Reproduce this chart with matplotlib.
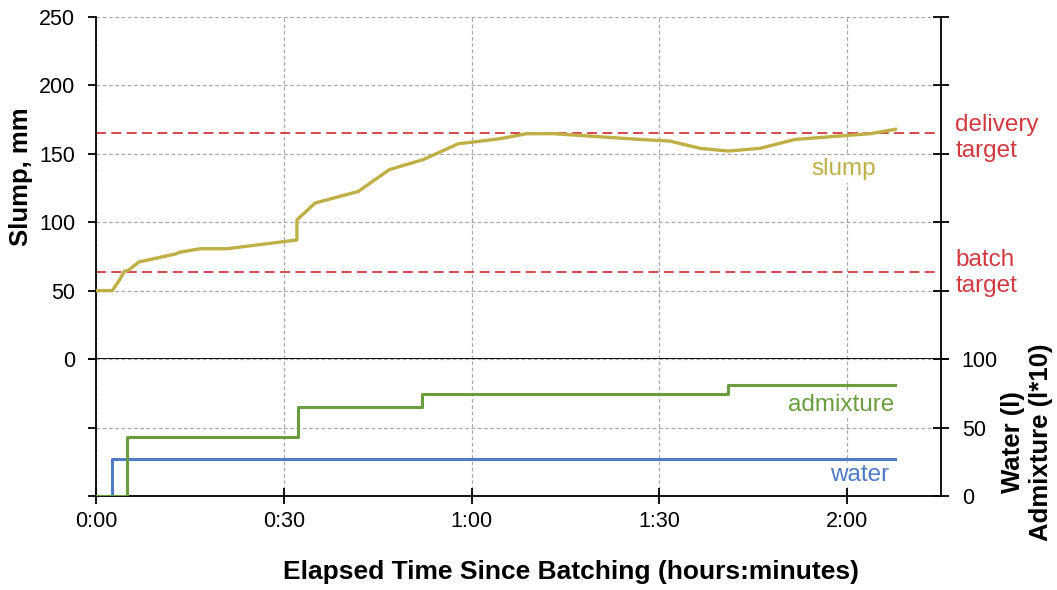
import matplotlib
matplotlib.use("Agg")
import matplotlib.pyplot as plt
from matplotlib.lines import TICKLEFT

plt.rcParams['font.family'] = ['Liberation Sans', 'DejaVu Sans']

# slump readings (minutes since batching, mm)
slump_t = [0, 2.6, 3.8, 4.5, 5.2, 6.9, 12.9, 13.3, 16.6, 20.9, 32.1, 32.1, 35.0,
           41.9, 46.9, 52.3, 57.9, 60.3, 64.5, 68.8, 73.1, 86.9, 91.7, 96.5,
           101.0, 106.1, 111.7, 119.9, 123.7, 127.7]
slump_mm = [50, 50, 58, 64, 65, 71, 77, 78, 80.6, 80.6, 87, 101.7, 114,
            122.5, 138.5, 145.8, 157.4, 158.6, 161, 164.7, 164.7, 160.5, 159.3, 154,
            152, 154, 160.5, 163.4, 164.7, 167.9]

# additions (step values)
water_t = [0, 2.6, 127.7]
water_l = [0, 27, 27]
admix_t = [0, 5.0, 32.2, 52.1, 101.0, 127.7]
admix_l = [0, 43, 65, 74.5, 81, 81]

delivery_target = 165
batch_target = 63.5

xticks = [0, 30, 60, 90, 120]
xticklabels = ['0:00', '0:30', '1:00', '1:30', '2:00']

c_slump = '#BFAF45'
c_red = '#D2393F'
c_green = '#6A9D3E'
c_blue = '#4F7BC7'

fig = plt.figure(figsize=(10.57, 5.9), dpi=100)
W, H = 1057, 590
x0, x1 = 96 / W, 941 / W
ytop, ymid, ybot = 1 - 17 / H, 1 - 359 / H, 1 - 496 / H
ax1 = fig.add_axes([x0, ymid, x1 - x0, ytop - ymid])
ax2 = fig.add_axes([x0, ybot, x1 - x0, ymid - ybot])

grid_kw = dict(color='#a8a8a8', linestyle=(0, (3, 2)), linewidth=0.9)
tick_fs = 15.5
note_fs = 17.5
label_fs = 18.5

for ax in (ax1, ax2):
    ax.set_xlim(0, 135)
    ax.set_xticks(xticks)
    ax.grid(True, **grid_kw)
    ax.set_axisbelow(True)
    for s in ('left', 'right', 'bottom'):
        ax.spines[s].set_linewidth(1.3)
        ax.spines[s].set_color('black')
    ax.spines['top'].set_visible(False)

# top panel
ax1.plot(slump_t, slump_mm, color=c_slump, lw=2.4, zorder=3)
for v in (delivery_target, batch_target):
    ax1.axhline(v, color=c_red, lw=1.3, dashes=(5.5, 3), zorder=2)
ax1.set_ylim(0, 250)
ax1.set_yticks([0, 50, 100, 150, 200, 250])
ax1.tick_params(axis='y', left=True, right=True, labelsize=tick_fs,
                direction='inout', length=12, width=1.3, pad=9)
for t in ax1.yaxis.get_major_ticks():
    t.tick1line.set_markersize(6)
    t.tick1line.set_marker(TICKLEFT)
ax1.tick_params(axis='x', bottom=False, labelbottom=False)
fig.text(21 / W, 1 - 177 / H, 'Slump, mm', rotation=90,
         ha='center', va='center', fontsize=label_fs, fontweight='bold')
ax1.text(119.5, 139, 'slump', color=c_slump, fontsize=note_fs, ha='center', va='center',
         bbox=dict(facecolor='white', edgecolor='none', pad=2), zorder=4)
ax1.text(1.017, 161.5, 'delivery\ntarget', color=c_red, fontsize=note_fs,
         ha='left', va='center', transform=ax1.get_yaxis_transform())
ax1.text(1.017, 63, 'batch\ntarget', color=c_red, fontsize=note_fs,
         ha='left', va='center', transform=ax1.get_yaxis_transform())

# bottom panel
ax2.plot(water_t, water_l, drawstyle='steps-post', color=c_blue, lw=2.2, zorder=3)
ax2.plot(admix_t, admix_l, drawstyle='steps-post', color=c_green, lw=2.2, zorder=3)
ax2.set_ylim(0, 100)
ax2.set_yticks([0, 50, 100])
ax2.tick_params(axis='y', left=True, labelleft=False, right=True, labelright=True,
                labelsize=tick_fs, width=1.3, direction='inout', length=12, pad=9)
for t in ax2.yaxis.get_major_ticks():
    t.tick1line.set_markersize(6)
    t.tick1line.set_marker(TICKLEFT)
ax2.yaxis.grid(True, **grid_kw)
ax2.set_xticklabels(xticklabels)
ax2.tick_params(axis='x', direction='inout', length=12, width=1.3, labelsize=tick_fs, pad=5)
ax2.text(119, 66.4, 'admixture', color=c_green, fontsize=note_fs, ha='center', va='center',
         bbox=dict(facecolor='white', edgecolor='none', pad=1), zorder=4)
ax2.text(122, 15.3, 'water', color=c_blue, fontsize=note_fs, ha='center', va='center',
         bbox=dict(facecolor='white', edgecolor='none', pad=1), zorder=4)

fig.text(571 / W, 1 - 572 / H, 'Elapsed Time Since Batching (hours:minutes)',
         ha='center', va='center', fontsize=19, fontweight='bold')
fig.text(1027 / W, 1 - 442 / H, 'Water (l)\nAdmixture (l*10)', rotation=90,
         ha='center', va='center', fontsize=label_fs, fontweight='bold',
         multialignment='center', linespacing=1.2)

fig.savefig('out.png', dpi=100)
